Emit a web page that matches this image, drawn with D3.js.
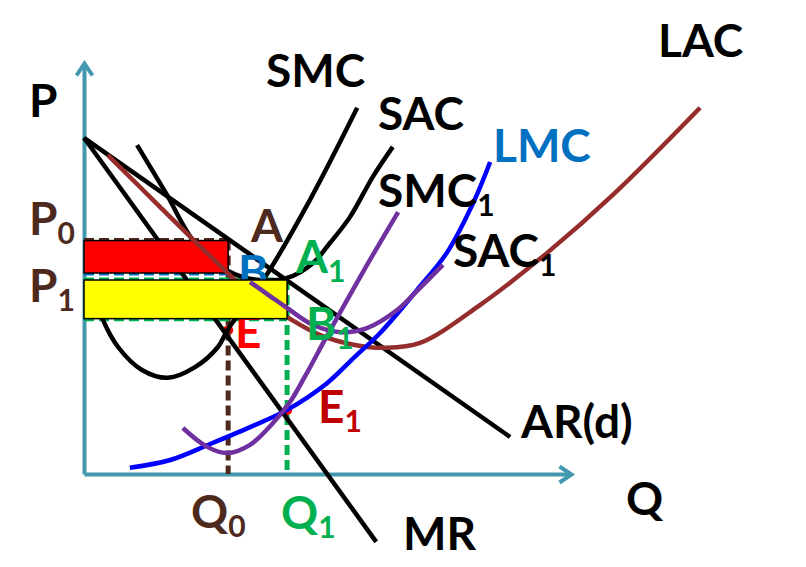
<!DOCTYPE html>
<html>
<head>
<meta charset="utf-8">
<script src="https://cdn.jsdelivr.net/npm/d3@7"></script>
<style>
  body { margin: 0; background: #fff; }
  svg { display: block; }
  text { font-family: Lato, "Open Sans", sans-serif; font-weight: bold; }
</style>
</head>
<body>
<div id="chart"></div>
<script>
const WIDTH = 806, HEIGHT = 567;

// demand side (quantity, price)
const arLine = [[0, 81.8], [87.5, 9.0]];
const mrLine = [[0, 81.8], [60.0, -16.5]];

// short run plant 0
const smcCurve = [[2.5, 42.3], [3.7, 38.0], [7.0, 30.9], [11.9, 25.3], [17.2, 23.4], [22.8, 26.0],
  [27.5, 30.9], [29.6, 35.3], [37.2, 47.9], [46.4, 66.7], [56.1, 89.1]];
const sacCurve = [[10.9, 80.0], [16.8, 68.4], [22.8, 56.2], [29.6, 49.4], [35.7, 47.2], [41.7, 47.7],
  [47.0, 51.3], [50.5, 56.2], [54.6, 62.5], [59.3, 72.3], [63.4, 79.6]];

// short run plant 1
const smc1Curve = [[20.3, 11.2], [25.3, 6.6], [29.4, 5.1], [34.1, 7.1], [38.8, 12.4], [42.3, 17.5],
  [45.4, 23.8], [49.9, 33.6], [55.2, 44.8], [59.8, 54.3], [64.5, 63.7]];
const sac1Curve = [[34.1, 46.7], [38.2, 43.3], [41.7, 40.4], [47.0, 36.3], [52.6, 34.5], [58.1, 35.5],
  [64.3, 39.9], [69.0, 45.3], [73.7, 50.9]];

// long run
const lacCurve = [[4.9, 77.6], [15.6, 65.0], [26.3, 52.6], [34.1, 44.0], [41.7, 38.2], [48.5, 33.8],
  [55.6, 31.4], [61.8, 30.7], [69.0, 31.9], [81.3, 41.1], [95.1, 53.8], [108.6, 67.9], [126.5, 89.1]];
const lmcCurve = [[9.4, 1.5], [17.7, 3.4], [25.9, 7.3], [34.1, 11.4], [41.7, 15.6], [49.9, 22.1],
  [55.6, 28.5], [60.8, 34.3], [68.4, 44.8], [74.5, 53.8], [79.9, 65.9], [83.4, 75.9]];

// equilibrium values
const q0 = 29.6, q1 = 41.7;
const p0 = 56.8, ac0 = 48.9;
const p1 = 47.2, ac1 = 37.8;
const e0 = 35.0, e1 = 15.5;

const BROWN = "#4e2a1e", GREEN = "#00b050", BLUE_TXT = "#0070c0";

// label layout: [main, sub, left, baseline, colour]
const labels = [
  ["P", "", 29, 117, "#000"],
  ["SMC", "", 266, 87, "#000"],
  ["SAC", "", 378, 130, "#000"],
  ["LMC", "", 493, 162, BLUE_TXT],
  ["SMC", "1", 378, 207, "#000"],
  ["SAC", "1", 453, 267, "#000"],
  ["LAC", "", 658, 57, "#000"],
  ["AR(d)", "", 521, 438, "#000"],
  ["MR", "", 403, 550, "#000"],
  ["Q", "", 626, 515, "#000"],
  ["Q", "0", 191, 528, BROWN],
  ["Q", "1", 281, 529, GREEN],
  ["P", "0", 29, 235, BROWN],
  ["P", "1", 29, 302, BROWN],
  ["A", "1", 296, 273, GREEN],
  ["B", "1", 306, 340, GREEN],
  ["E", "1", 318, 423, "#c00000"]
];
const underLabels = [
  ["A", "", 251, 242, BROWN],
  ["B", "", 238, 288, BLUE_TXT],
  ["E", "", 235, 348, "#ff0000"]
];

const x = d3.scaleLinear().domain([0, 100]).range([84, 571]);
const y = d3.scaleLinear().domain([0, 100]).range([474, 63]);

const svg = d3.select("#chart").append("svg")
  .attr("width", WIDTH).attr("height", HEIGHT);

svg.append("defs").append("marker")
  .attr("id", "arrow")
  .attr("viewBox", "-16 -12 24 24")
  .attr("markerWidth", 24).attr("markerHeight", 24)
  .attr("markerUnits", "userSpaceOnUse")
  .attr("refX", 0).attr("refY", 0)
  .attr("orient", "auto")
  .append("path")
  .attr("d", "M-12,-8L0,0L-12,8")
  .attr("fill", "none").attr("stroke", "#4298ae").attr("stroke-width", 4);

// axes
const xAxis = svg.append("g")
  .attr("transform", "translate(0," + y(0) + ")")
  .call(d3.axisBottom(x).tickValues([]).tickSizeOuter(0));
const yAxis = svg.append("g")
  .attr("transform", "translate(" + x(0) + ",0)")
  .call(d3.axisLeft(y).tickValues([]).tickSizeOuter(0));
[xAxis, yAxis].forEach(a => a.select(".domain")
  .attr("stroke", "#4298ae").attr("stroke-width", 4)
  .attr("marker-end", "url(#arrow)"));

const line = d3.line()
  .x(d => x(d[0]))
  .y(d => y(d[1]))
  .curve(d3.curveCatmullRom.alpha(0.5));

function drawCurve(data, color) {
  svg.append("path")
    .datum(data)
    .attr("d", line)
    .attr("fill", "none")
    .attr("stroke", color)
    .attr("stroke-width", 4.5);
}

function dashed(a, b, color) {
  svg.append("line")
    .attr("x1", x(a[0])).attr("y1", y(a[1]))
    .attr("x2", x(b[0])).attr("y2", y(b[1]))
    .attr("stroke", color).attr("stroke-width", 5)
    .attr("stroke-dasharray", "10,5");
}

function dot(q, p) {
  svg.append("circle").attr("cx", x(q)).attr("cy", y(p)).attr("r", 5).attr("fill", "#ff0000");
}

function addLabels(list) {
  list.forEach(([main, sub, lx, ly, color]) => {
    const t = svg.append("text").attr("x", lx).attr("y", ly).attr("fill", color)
      .attr("font-size", 46);
    t.append("tspan").text(main);
    if (sub) t.append("tspan").attr("font-size", 30).attr("dy", 9).text(sub);
  });
}

function rect(p, pLow, q, color) {
  svg.append("rect")
    .attr("x", x(0)).attr("y", y(p))
    .attr("width", x(q) - x(0)).attr("height", y(pLow) - y(p))
    .attr("fill", color).attr("stroke", "#000").attr("stroke-width", 1.5);
}

dot(q0, e0);
dot(q1, e1);

dashed([0, p0], [q0, p0], BROWN);
dashed([q0, p0], [q0, 0], BROWN);
dashed([0, ac0], [q0, ac0], BLUE_TXT);
dashed([0, p1], [q1, p1], GREEN);
dashed([0, ac1], [q1, ac1], GREEN);
dashed([q1, p1], [q1, 0], GREEN);

drawCurve(arLine, "#000");
drawCurve(mrLine, "#000");
drawCurve(smcCurve, "#000");
drawCurve(sacCurve, "#000");

rect(p0, ac0, q0, "#ff0000");
drawCurve(lacCurve, "#952d2d");
addLabels(underLabels);
rect(p1, ac1, q1, "#ffff00");

drawCurve(lmcCurve, "#0000ff");
drawCurve(smc1Curve, "#7030a0");
drawCurve(sac1Curve, "#7030a0");

addLabels(labels);
</script>
</body>
</html>
